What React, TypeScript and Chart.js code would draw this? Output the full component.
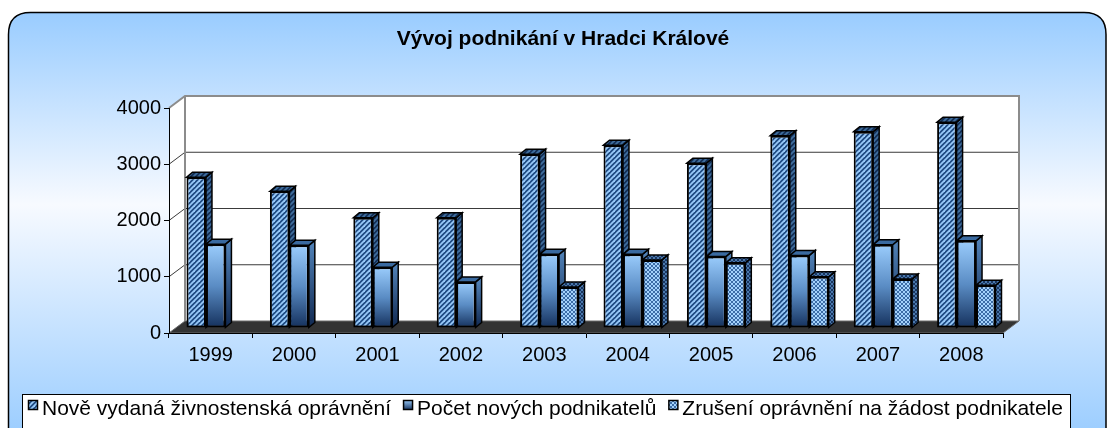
import React, { useEffect, useRef } from "react";
import { Chart, registerables } from "chart.js";

Chart.register(...registerables);

const categories = ["1999", "2000", "2001", "2002", "2003", "2004", "2005", "2006", "2007", "2008"];
const seriesLabels = [
  "Nově vydaná živnostenská oprávnění",
  "Počet nových podnikatelů",
  "Zrušení oprávnění na žádost podnikatele",
];
const noveOpravneni = [2680, 2430, 1960, 1960, 3090, 3250, 2930, 3420, 3490, 3660];
const novePodnikatele = [1490, 1470, 1080, 820, 1310, 1310, 1270, 1290, 1480, 1550];
const zruseniOpravneni: (number | null)[] = [null, null, null, null, 730, 1210, 1160, 910, 870, 760];
const yTickValues = [0, 1000, 2000, 3000, 4000];
const chartTitle = "Vývoj podnikání v Hradci Králové";

const FONT = "Arial, 'Liberation Sans', sans-serif";
const WALL_DX = 16;
const WALL_DY = -12;
const BAR_SHIFT_X = 5;
const BAR_SHIFT_Y = -5;
const BAR_DX = 6;
const BAR_DY = -5;

function makeTile(size: number, draw: (g: CanvasRenderingContext2D, s: number) => void) {
  const c = document.createElement("canvas");
  c.width = size;
  c.height = size;
  const g = c.getContext("2d")!;
  draw(g, size);
  return c;
}

function stripeTile(bg: string, fg: string) {
  return makeTile(5, (g, s) => {
    g.fillStyle = bg;
    g.fillRect(0, 0, s, s);
    g.strokeStyle = fg;
    g.lineWidth = 1.8;
    for (const o of [-s, 0, s]) {
      g.beginPath();
      g.moveTo(o - 1, s + 1);
      g.lineTo(o + s + 1, -1);
      g.stroke();
    }
  });
}

function checkerTile(bg: string, fg: string) {
  return makeTile(4, (g) => {
    g.fillStyle = bg;
    g.fillRect(0, 0, 4, 4);
    g.fillStyle = fg;
    g.fillRect(0, 0, 2, 2);
    g.fillRect(2, 2, 2, 2);
  });
}

export default function App() {
  const canvasRef = useRef<HTMLCanvasElement | null>(null);

  useEffect(() => {
    const canvas = canvasRef.current;
    if (!canvas) return;
    const ctx = canvas.getContext("2d")!;

    const s1Front = ctx.createPattern(stripeTile("#1E4A82", "#98CAFA"), "repeat")!;
    const s1Side = ctx.createPattern(stripeTile("#142F55", "#3F6E9E"), "repeat")!;
    const s3Front = ctx.createPattern(checkerTile("#A4D2FC", "#3C6CA6"), "repeat")!;
    const s3Side = ctx.createPattern(checkerTile("#4A78AC", "#1A3660"), "repeat")!;

    const s2Gradient = (c: any) => {
      const chart = c.chart;
      if (!chart.chartArea || c.raw == null) return "#5F93CC";
      const ys = chart.scales.y;
      const top = ys.getPixelForValue(c.raw as number);
      const base = ys.getPixelForValue(0);
      const g = chart.ctx.createLinearGradient(0, top, 0, base);
      g.addColorStop(0, "#9ACCFC");
      g.addColorStop(0.5, "#5A8CC4");
      g.addColorStop(1, "#14305C");
      return g;
    };

    const faceStyles = [
      { side: () => s1Side, top: () => s1Side },
      {
        side: (top: number, base: number) => {
          const g = ctx.createLinearGradient(0, top, 0, base);
          g.addColorStop(0, "#4F7FB4");
          g.addColorStop(1, "#102850");
          return g;
        },
        top: () => "#3A6AA0",
      },
      { side: () => s3Side, top: () => s3Side },
    ];

    const plugin = {
      id: "excel3d",
      beforeDraw(chart: any) {
        const c = chart.ctx as CanvasRenderingContext2D;
        const a = chart.chartArea;
        const ys = chart.scales.y;
        c.save();
        // background rounded panel
        const bg = c.createLinearGradient(0, 12, 0, 440);
        bg.addColorStop(0, "#99CCFF");
        bg.addColorStop(0.45, "#F7FAFF");
        bg.addColorStop(1, "#99CCFF");
        const x0 = 8.5, y0 = 12.5, x1 = 1106, y1 = 470, r = 22;
        c.beginPath();
        c.moveTo(x0 + r, y0);
        c.lineTo(x1 - r, y0);
        c.quadraticCurveTo(x1, y0, x1, y0 + r);
        c.lineTo(x1, y1 - r);
        c.quadraticCurveTo(x1, y1, x1 - r, y1);
        c.lineTo(x0 + r, y1);
        c.quadraticCurveTo(x0, y1, x0, y1 - r);
        c.lineTo(x0, y0 + r);
        c.quadraticCurveTo(x0, y0, x0 + r, y0);
        c.closePath();
        c.fillStyle = bg;
        c.fill();
        c.lineWidth = 1.5;
        c.strokeStyle = "#000";
        c.stroke();

        const L = a.left, R = a.right, T = a.top, B = a.bottom;
        // back wall
        c.fillStyle = "#FFFFFF";
        c.fillRect(L + WALL_DX, T + WALL_DY, R - L, B - T);
        // left wall
        c.beginPath();
        c.moveTo(L, T);
        c.lineTo(L + WALL_DX, T + WALL_DY);
        c.lineTo(L + WALL_DX, B + WALL_DY);
        c.lineTo(L, B);
        c.closePath();
        c.fill();
        // floor
        c.beginPath();
        c.moveTo(L, B);
        c.lineTo(L + WALL_DX, B + WALL_DY);
        c.lineTo(R + WALL_DX, B + WALL_DY);
        c.lineTo(R, B);
        c.closePath();
        c.fillStyle = "#333333";
        c.fill();
        c.strokeStyle = "#6A6A6A";
        c.lineWidth = 1;
        c.stroke();
        // gridlines
        for (const v of yTickValues) {
          if (v === 0 || v === yTickValues[yTickValues.length - 1]) continue;
          const py = ys.getPixelForValue(v);
          c.beginPath();
          c.moveTo(L, py);
          c.lineTo(L + WALL_DX, py + WALL_DY);
          c.lineTo(R + WALL_DX, py + WALL_DY);
          c.strokeStyle = "#3A3A3A";
          c.lineWidth = 1;
          c.stroke();
        }
        // wall borders
        c.strokeStyle = "#8C8C8C";
        c.lineWidth = 2;
        c.beginPath();
        c.moveTo(L, T);
        c.lineTo(L + WALL_DX, T + WALL_DY);
        c.lineTo(R + WALL_DX, T + WALL_DY);
        c.lineTo(R + WALL_DX, B + WALL_DY);
        c.stroke();
        c.beginPath();
        c.moveTo(L + WALL_DX, T + WALL_DY);
        c.lineTo(L + WALL_DX, B + WALL_DY);
        c.stroke();

        // title
        c.fillStyle = "#000";
        c.font = `bold 21px ${FONT}`;
        c.textAlign = "center";
        c.textBaseline = "alphabetic";
        c.fillText(chartTitle, 563, 45);
        c.restore();
      },
      beforeDatasetsDraw(chart: any) {
        const c = chart.ctx as CanvasRenderingContext2D;
        c.save();
        c.translate(BAR_SHIFT_X, BAR_SHIFT_Y);
        c.lineWidth = 1.5;
        c.strokeStyle = "#000";
        c.lineJoin = "miter";
        chart.data.datasets.forEach((ds: any, d: number) => {
          const meta = chart.getDatasetMeta(d);
          meta.data.forEach((el: any, i: number) => {
            if (ds.data[i] == null) return;
            const p = el.getProps(["x", "y", "base", "width"], true);
            const xl = p.x - p.width / 2;
            const xr = p.x + p.width / 2;
            const st = faceStyles[d];
            c.beginPath();
            c.moveTo(xr, p.base);
            c.lineTo(xr + BAR_DX, p.base + BAR_DY);
            c.lineTo(xr + BAR_DX, p.y + BAR_DY);
            c.lineTo(xr, p.y);
            c.closePath();
            c.fillStyle = st.side(p.y, p.base) as any;
            c.fill();
            c.stroke();
            c.beginPath();
            c.moveTo(xl, p.y);
            c.lineTo(xl + BAR_DX, p.y + BAR_DY);
            c.lineTo(xr + BAR_DX, p.y + BAR_DY);
            c.lineTo(xr, p.y);
            c.closePath();
            c.fillStyle = st.top() as any;
            c.fill();
            c.stroke();
          });
        });
      },
      afterDatasetsDraw(chart: any) {
        chart.ctx.restore();
      },
      afterDraw(chart: any) {
        const c = chart.ctx as CanvasRenderingContext2D;
        c.save();
        c.fillStyle = "#FFFFFF";
        c.fillRect(22.5, 394.5, 1048, 40);
        c.strokeStyle = "#000";
        c.lineWidth = 1;
        c.strokeRect(22.5, 394.5, 1048, 40);
        const labels = chart.data.datasets.map((d: any) => d.label as string);
        const markW = 10, markGap = 4, itemGap = 12;
        c.font = `18px ${FONT}`;
        const w18 = labels.reduce((s: number, t: string) => s + c.measureText(t).width, 0);
        const fixed = labels.length * (markW + markGap) + (labels.length - 1) * itemGap;
        let fs = (18 * (1035 - fixed)) / w18;
        fs = Math.max(15, Math.min(21, fs));
        c.font = `${fs.toFixed(2)}px ${FONT}`;
        const markerFills = [s1Front, (() => {
          const g = c.createLinearGradient(0, 400, 0, 410);
          g.addColorStop(0, "#9ACCFC");
          g.addColorStop(1, "#14305C");
          return g;
        })(), s3Front];
        let x = 28;
        labels.forEach((t: string, i: number) => {
          c.fillStyle = markerFills[i] as any;
          c.fillRect(x + 0.5, 400.5, markW - 1, markW - 1);
          c.strokeStyle = "#000";
          c.lineWidth = 1.5;
          c.strokeRect(x + 0.5, 400.5, markW - 1, markW - 1);
          c.fillStyle = "#000";
          c.textAlign = "left";
          c.textBaseline = "alphabetic";
          c.fillText(t, x + markW + markGap, 415);
          x += markW + markGap + c.measureText(t).width + itemGap;
        });
        c.restore();
      },
    };

    const chart = new Chart(canvas, {
      type: "bar",
      data: {
        labels: categories,
        datasets: [
          {
            label: seriesLabels[0],
            data: noveOpravneni,
            backgroundColor: s1Front,
            borderColor: "#000",
            borderWidth: 2,
            borderSkipped: false,
          },
          {
            label: seriesLabels[1],
            data: novePodnikatele,
            backgroundColor: s2Gradient,
            borderColor: "#000",
            borderWidth: 2,
            borderSkipped: false,
          },
          {
            label: seriesLabels[2],
            data: zruseniOpravneni,
            backgroundColor: s3Front,
            borderColor: "#000",
            borderWidth: 2,
            borderSkipped: false,
          },
        ],
      },
      options: {
        responsive: false,
        maintainAspectRatio: false,
        animation: false,
        devicePixelRatio: 1,
        layout: { padding: { top: 108, right: 105, bottom: 0, left: 0 } },
        datasets: { bar: { categoryPercentage: 0.7, barPercentage: 1.0 } },
        plugins: {
          legend: { display: false },
          title: { display: false },
          tooltip: { enabled: false },
        },
        scales: {
          x: {
            type: "category",
            offset: true,
            grid: { display: true, drawOnChartArea: false, drawTicks: true, tickLength: 5, color: "#000", offset: true },
            border: { display: true, color: "#000", width: 1 },
            ticks: { color: "#000", font: { family: FONT, size: 20 }, padding: 5, maxRotation: 0 },
            afterFit: (s: any) => {
              s.height = 95;
            },
          },
          y: {
            min: 0,
            max: 4000,
            afterBuildTicks: (s: any) => {
              s.ticks = yTickValues.map((v) => ({ value: v }));
            },
            grid: { display: true, drawOnChartArea: false, drawTicks: true, tickLength: 5, color: "#000" },
            border: { display: true, color: "#000", width: 1 },
            ticks: {
              color: "#000",
              font: { family: FONT, size: 20 },
              padding: 3,
              callback: (v: any) => String(v),
            },
            afterFit: (s: any) => {
              s.width = 169;
            },
          },
        },
      },
      plugins: [plugin],
    });

    return () => {
      chart.destroy();
    };
  }, []);

  return (
    <div style={{ position: "fixed", left: 0, top: 0, width: 1108, height: 428, background: "#fff" }}>
      <canvas ref={canvasRef} width={1108} height={428} style={{ width: 1108, height: 428, display: "block" }} />
    </div>
  );
}
